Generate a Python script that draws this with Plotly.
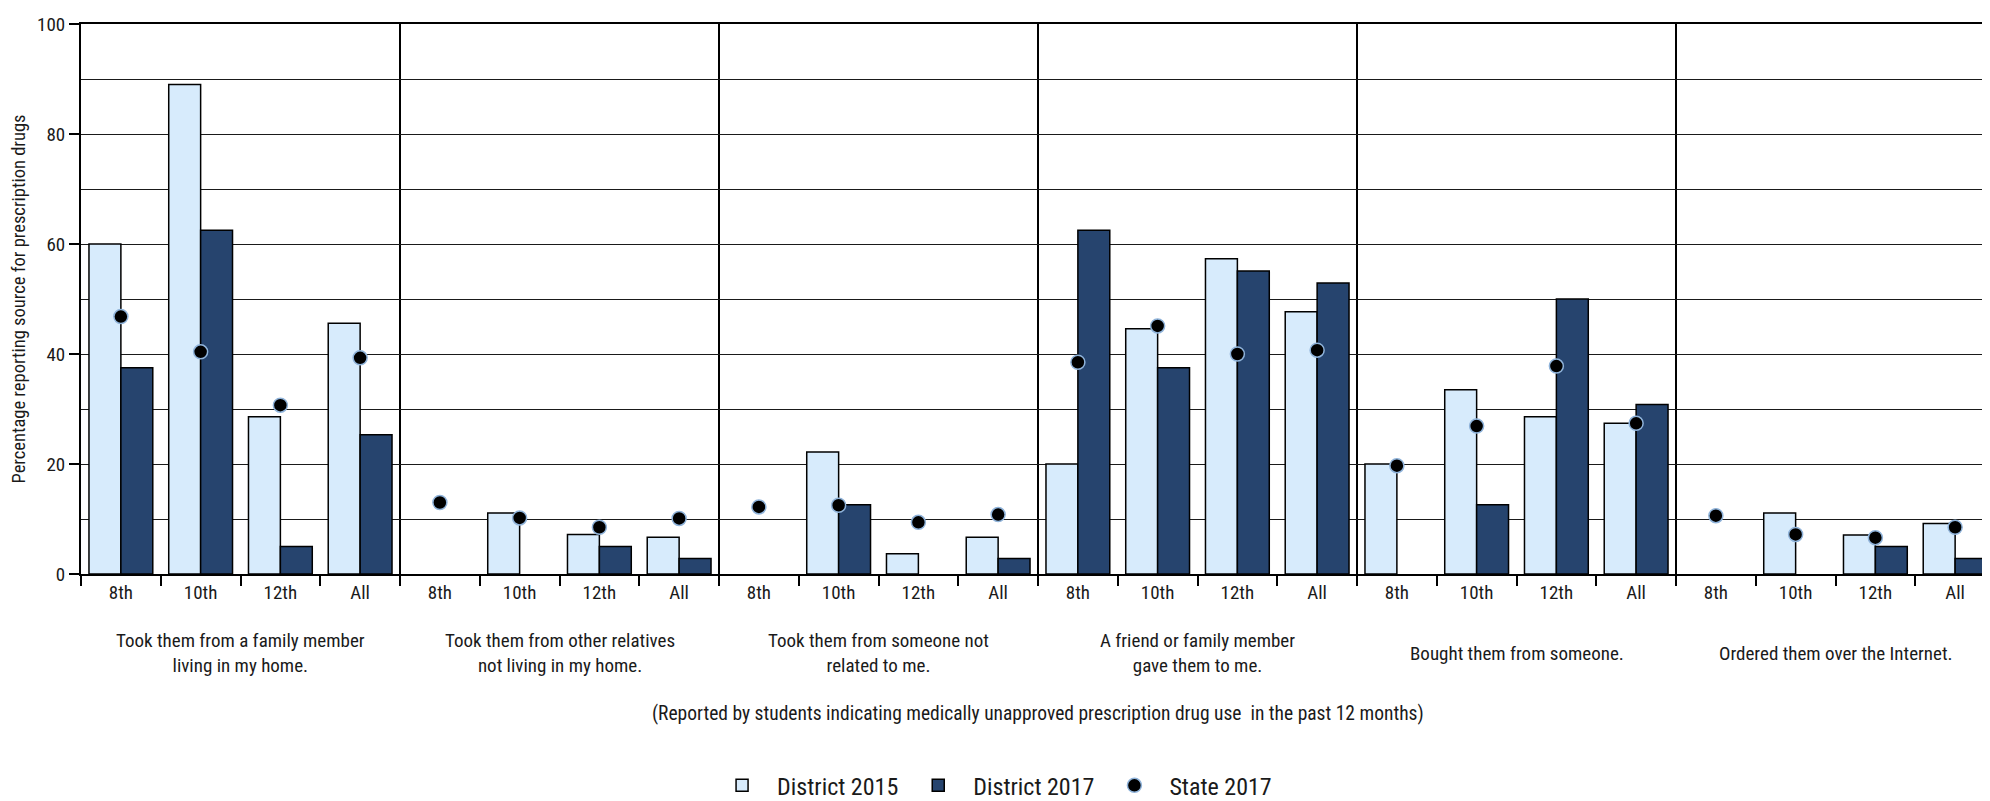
import plotly.graph_objects as go

groups = [
    "Took them from a family member<br>living in my home.",
    "Took them from other relatives<br>not living in my home.",
    "Took them from someone not<br>related to me.",
    "A friend or family member<br>gave them to me.",
    "Bought them from someone.",
    "Ordered them over the Internet.",
]
grades = ["8th", "10th", "12th", "All"]

district_2015 = [60.0, 89.0, 28.6, 45.6,
                 None, 11.1, 7.2, 6.7,
                 None, 22.2, 3.7, 6.7,
                 20.0, 44.6, 57.3, 47.7,
                 20.0, 33.5, 28.6, 27.4,
                 None, 11.1, 7.1, 9.2]
district_2017 = [37.5, 62.5, 5.0, 25.3,
                 None, None, 5.0, 2.8,
                 None, 12.6, None, 2.8,
                 62.5, 37.5, 55.1, 52.9,
                 None, 12.6, 50.0, 30.8,
                 None, None, 5.0, 2.8]
state_2017 = [46.8, 40.4, 30.7, 39.3,
              13.0, 10.2, 8.5, 10.1,
              12.2, 12.5, 9.4, 10.8,
              38.5, 45.1, 40.0, 40.7,
              19.7, 26.9, 37.8, 27.4,
              10.6, 7.2, 6.6, 8.5]

FONT = "Roboto Condensed, DejaVu Sans Condensed, sans-serif"
TXT = "#1a1a1a"
LIGHT = "#D7EBFC"
DARK = "#26446E"

n = len(grades)
xpos = list(range(len(groups) * n))
ticktext = [grades[i % n] for i in xpos]

fig = go.Figure()
fig.add_trace(go.Bar(x=xpos, y=district_2015, name="District 2015",
                     marker=dict(color=LIGHT, line=dict(color="black", width=1.5))))
fig.add_trace(go.Bar(x=xpos, y=district_2017, name="District 2017",
                     marker=dict(color=DARK, line=dict(color="black", width=1.5))))
fig.add_trace(go.Scatter(x=xpos, y=state_2017, name="State 2017", mode="markers",
                         marker=dict(color="black", size=14,
                                     line=dict(color="#8FB3DA", width=1.5))))

for g in range(1, len(groups)):
    sep = g * n - 0.5
    fig.add_shape(type="line", xref="x", yref="paper", x0=sep, x1=sep, y0=0, y1=1,
                  line=dict(color="black", width=2), layer="below")

for g, label in enumerate(groups):
    center = g * n + (n - 1) / 2
    fig.add_annotation(x=center, xref="x", y=-0.144, yref="paper", text=label,
                       showarrow=False, yanchor="middle", xanchor="center",
                       font=dict(family=FONT, size=19, color=TXT))

fig.add_annotation(x=0.5, xref="paper", y=-0.254, yref="paper",
                   text="(Reported by students indicating medically unapproved prescription drug use  in the past 12 months)",
                   showarrow=False, yanchor="middle", xanchor="center",
                   font=dict(family=FONT, size=19.5, color=TXT))

fig.update_layout(
    width=1990, height=801,
    margin=dict(l=73, r=1, t=16, b=229),
    plot_bgcolor="white", paper_bgcolor="white",
    barmode="group", bargap=0.2, bargroupgap=0,
    font=dict(family=FONT, size=17, color=TXT),
    legend=dict(orientation="h", x=0.476, xanchor="center", y=-0.385, yanchor="middle",
                font=dict(family=FONT, size=24, color=TXT),
                traceorder="normal", itemwidth=60),
    xaxis=dict(range=[-0.5, len(xpos) - 0.5], tickmode="array", tickvals=xpos,
               ticktext=ticktext, ticks="", showgrid=False,
               showline=True, linecolor="black", linewidth=2, mirror=True,
               tickfont=dict(family=FONT, size=19, color=TXT),
               minor=dict(tickmode="array", tickvals=[i - 0.5 for i in range(len(xpos) + 1)],
                          ticks="outside", ticklen=10, tickcolor="black", tickwidth=2,
                          showgrid=False),
               zeroline=False),
    yaxis=dict(range=[0, 100], dtick=20, tick0=0, ticks="outside", ticklen=10,
               tickcolor="black", tickwidth=2,
               showgrid=True, gridcolor="#1a1a1a", gridwidth=1.3,
               showline=True, linecolor="black", linewidth=2, mirror=True,
               zeroline=False,
               tickfont=dict(family=FONT, size=19, color=TXT),
               minor=dict(dtick=10, showgrid=True, gridcolor="#1a1a1a", gridwidth=1.3, ticks=""),
               title=dict(text="Percentage reporting source for prescription drugs",
                          font=dict(family=FONT, size=18.5, color=TXT), standoff=8)),
)

fig.write_html("out.html")
